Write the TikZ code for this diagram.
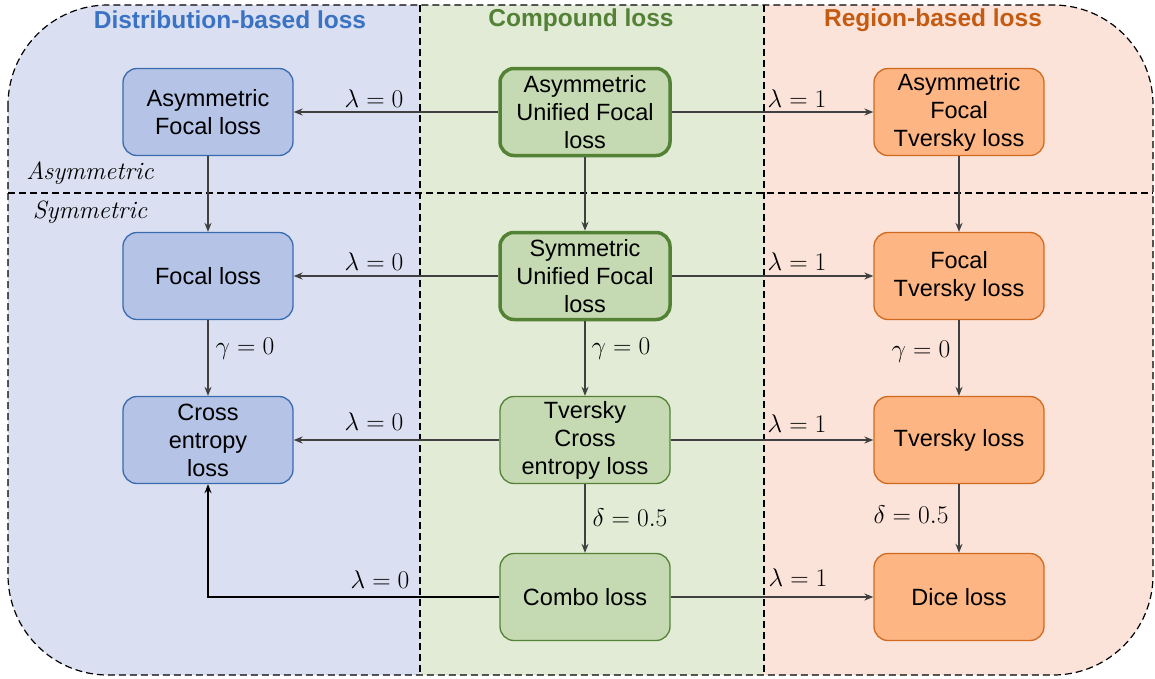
\RequirePackage{fix-cm}
\documentclass[tikz,border=0pt]{standalone}
\usepackage{fontspec}
\newfontfamily\arial{Liberation Sans}
\usetikzlibrary{arrows.meta}
\definecolor{bgblue}{HTML}{DAE0F1}
\definecolor{bggreen}{HTML}{E2EBD6}
\definecolor{bgorange}{HTML}{FCE3D9}
\definecolor{fblue}{HTML}{B4C3E6}
\definecolor{dblue}{HTML}{3A6BB0}
\definecolor{fgreen}{HTML}{C5D9B2}
\definecolor{dgreen}{HTML}{548235}
\definecolor{forange}{HTML}{FDB584}
\definecolor{dorange}{HTML}{D06A1E}
\definecolor{tblue}{HTML}{3A72C4}
\definecolor{tgreen}{HTML}{538135}
\definecolor{torange}{HTML}{C55A11}
\definecolor{arr}{HTML}{404040}
\tikzset{
  box/.style={rounded corners=14pt, minimum width=170pt, minimum height=87pt, align=center, inner sep=0pt,
    font=\arial\fontsize{23.5}{28}\selectfont, line width=1.3pt},
  bbox/.style={box, fill=fblue, draw=dblue},
  gbox/.style={box, fill=fgreen, draw=dgreen},
  gthick/.style={gbox, line width=3.5pt},
  obox/.style={box, fill=forange, draw=dorange},
  conn/.style={draw=arr, line width=1.5pt, -{Stealth[length=9pt,width=7pt]}},
  lab/.style={font=\fontsize{25.5}{28}\selectfont, inner sep=0pt},
  coltitle/.style={font=\arial\bfseries\fontsize{24.5}{28}\selectfont, inner sep=0pt},
  sep/.style={draw=black, line width=1.2pt, dash pattern=on 7pt off 4pt},
  side/.style={font=\itshape\fontsize{25}{28}\selectfont, inner sep=0pt},
}
\begin{document}
\begin{tikzpicture}[x=1pt,y=-1pt]
\useasboundingbox (0,0) rectangle (1155,678);
\begin{scope}
\clip[rounded corners=100pt] (8,5) rectangle (1153,675);
\fill[bgblue] (0,0) rectangle (420,678);
\fill[bggreen] (420,0) rectangle (764,678);
\fill[bgorange] (764,0) rectangle (1155,678);
\end{scope}
\draw[sep, rounded corners=100pt] (8,5) rectangle (1153,675);
\draw[sep] (420,5) -- (420,675);
\draw[sep] (764,5) -- (764,675);
\draw[sep] (8,193) -- (1153,193);

\node[coltitle, text=tblue] (t1) at (230,20) {Distribution-based loss};
\node[coltitle, text=tgreen] (t2) at (581,20) {Compound loss};
\node[coltitle, text=torange] (t3) at (933,20) {Region-based loss};

\node[side] (asy) at (90,173) {Asymmetric};
\node[side] (sym) at (90,212) {Symmetric};

% blue column
\node[bbox] (afl) at (208,112) {Asymmetric\\Focal loss};
\node[bbox] (fl) at (208,276) {Focal loss};
\node[bbox] (ce) at (208,440) {Cross\\entropy\\loss};
% green column
\node[gthick] (aufl) at (585,112) {Asymmetric\\Unified Focal\\loss};
\node[gthick] (sufl) at (585,276) {Symmetric\\Unified Focal\\loss};
\node[gbox] (tce) at (585,440) {Tversky\\Cross\\entropy loss};
\node[gbox] (combo) at (585,597) {Combo loss};
% orange column
\node[obox] (aft) at (959,112) {Asymmetric\\Focal\\Tversky loss};
\node[obox] (ft) at (959,276) {Focal\\Tversky loss};
\node[obox] (tv) at (959,440) {Tversky loss};
\node[obox] (dice) at (959,597) {Dice loss};

% horizontal connectors
\draw[conn] (aufl) -- (afl);
\draw[conn] (aufl) -- (aft);
\draw[conn] (sufl) -- (fl);
\draw[conn] (sufl) -- (ft);
\draw[conn] (tce) -- (ce);
\draw[conn] (tce) -- (tv);
\draw[conn] (combo) -- (dice);
\draw[conn, draw=black] (combo.west) -| (ce.south);
% vertical connectors
\draw[conn] (afl) -- (fl);
\draw[conn] (fl) -- (ce);
\draw[conn] (aufl) -- (sufl);
\draw[conn] (sufl) -- (tce);
\draw[conn] (tce) -- (combo);
\draw[conn] (aft) -- (ft);
\draw[conn] (ft) -- (tv);
\draw[conn] (tv) -- (dice);

% labels
\node[lab] (l1) at (374,99) {$\lambda=0$};
\node[lab] (l2) at (374,262) {$\lambda=0$};
\node[lab] (l3) at (374,422) {$\lambda=0$};
\node[lab] (l4) at (380,580) {$\lambda=0$};
\node[lab] (r1) at (797,99) {$\lambda=1$};
\node[lab] (r2) at (797,262) {$\lambda=1$};
\node[lab] (r3) at (797,424) {$\lambda=1$};
\node[lab] (r4) at (798,578) {$\lambda=1$};
\node[lab] (g1) at (245,349) {$\gamma=0$};
\node[lab] (g2) at (621,349) {$\gamma=0$};
\node[lab] (g3) at (921,352) {$\gamma=0$};
\node[lab] (d1) at (630,518) {$\delta=0.5$};
\node[lab] (d2) at (911,515) {$\delta=0.5$};
\end{tikzpicture}
\end{document}
